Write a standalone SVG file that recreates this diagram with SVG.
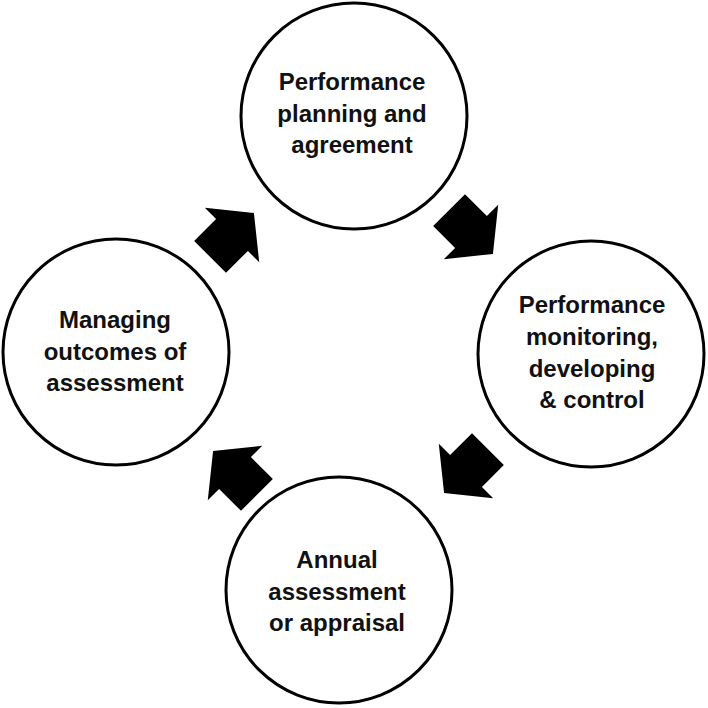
<svg xmlns="http://www.w3.org/2000/svg" width="708" height="708" viewBox="0 0 708 708">
<style>
.c{fill:#fff;stroke:#000;stroke-width:3}
.t{font-family:"Liberation Sans",Arial,sans-serif;font-weight:bold;font-size:24px;fill:#111;text-anchor:middle}
.a{fill:#000}
</style>
<defs>
<polygon id="arr" points="-31,-22.5 0,-22.5 0,-38.5 31,0 0,38.5 0,22.5 -31,22.5"/>
</defs>
<rect width="708" height="708" fill="#fff"/>
<g id="connectors">
<use href="#arr" class="a" transform="translate(232,235) rotate(-45)"/>
<use href="#arr" class="a" transform="translate(471,232) rotate(45)"/>
<use href="#arr" class="a" transform="translate(466,471) rotate(135)"/>
<use href="#arr" class="a" transform="translate(235,473) rotate(-135)"/>
</g>
<g id="planning">
<circle class="c" cx="354" cy="116" r="113"/>
<text class="t"><tspan x="352" y="90">Performance</tspan><tspan x="352" y="122">planning and</tspan><tspan x="352" y="153">agreement</tspan></text>
</g>
<g id="monitoring">
<circle class="c" cx="591" cy="354" r="113"/>
<text class="t"><tspan x="592" y="313">Performance</tspan><tspan x="592" y="345">monitoring,</tspan><tspan x="592" y="377">developing</tspan><tspan x="592" y="408">&amp; control</tspan></text>
</g>
<g id="assessment">
<circle class="c" cx="339" cy="590" r="113"/>
<text class="t"><tspan x="337" y="568">Annual</tspan><tspan x="337" y="600">assessment</tspan><tspan x="337" y="631">or appraisal</tspan></text>
</g>
<g id="outcomes">
<circle class="c" cx="116" cy="352" r="113"/>
<text class="t"><tspan x="115" y="328">Managing</tspan><tspan x="115" y="360">outcomes of</tspan><tspan x="115" y="391">assessment</tspan></text>
</g>
</svg>
